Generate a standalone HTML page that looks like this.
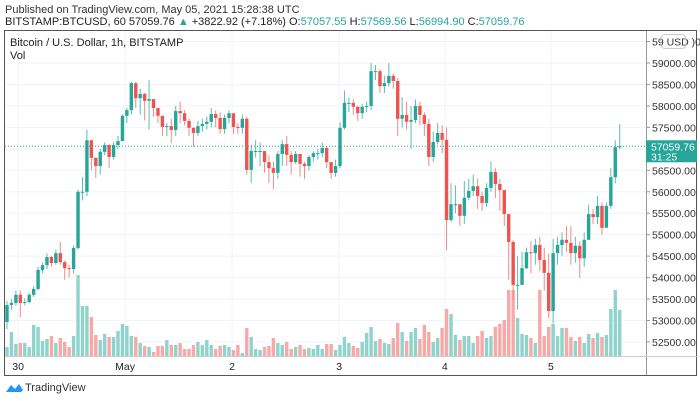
<!DOCTYPE html>
<html><head><meta charset="utf-8"><style>
body{margin:0;background:#fff;font-family:"Liberation Sans",sans-serif;}
#wrap{position:relative;width:700px;height:401px;overflow:hidden;}
</style></head><body>
<div id="wrap">
<svg id="svg" width="700" height="401" xmlns="http://www.w3.org/2000/svg">
<text x="5" y="13" font-size="11" fill="#333">Published on TradingView.com, May 05, 2021 15:28:38 UTC</text>
<text x="5" y="25" font-size="11" fill="#222">BITSTAMP:BTCUSD, 60 57059.76 <tspan fill="#26a69a">▲</tspan> +3822.92 (+7.18%) O:<tspan fill="#26a69a">57057.55</tspan> H:<tspan fill="#26a69a">57569.56</tspan> L:<tspan fill="#26a69a">56994.90</tspan> C:<tspan fill="#26a69a">57059.76</tspan></text>
<rect x="4.5" y="30.5" width="692" height="345" fill="none" stroke="#555" stroke-width="1"/>
<g id="grid"></g>
<g id="vol"></g>
<g id="candles"></g>
<g id="axis"></g>
<text x="10" y="46" font-size="11" fill="#222">Bitcoin / U.S. Dollar, 1h, BITSTAMP</text>
<text x="10" y="59" font-size="11" fill="#222">Vol</text>
<g>
<path d="M6 392 L11 385 L15 389 L19 384 L23 390 L21 392 Z" fill="#2196f3"/>
<text x="25" y="391" font-size="11" fill="#333">TradingView</text>
</g>
</svg>
</div>
<script>
const closes=[53361,53410,53600,53410,53430,53600,53735,54180,54290,54480,54340,54570,54360,54220,54200,54690,56000,56000,57200,56790,56600,56930,57090,56810,57090,57180,57770,57900,58530,58180,58280,58120,58160,57950,57770,57510,57530,57440,57880,57830,57650,57490,57370,57530,57580,57630,57810,57720,57460,57720,57830,57510,57490,57700,56510,56950,56950,56950,56690,56550,56440,56880,57110,56860,56690,56880,56650,56600,56810,56900,56900,57020,56690,56440,56600,57490,58070,58070,57980,57830,57980,58000,58810,58810,58460,58530,58700,58580,57700,57790,57630,57670,58000,57790,57580,56810,57160,57370,57210,55340,55710,55710,55440,55860,56020,56130,55900,55740,56090,56460,56180,56040,55480,54830,53830,53830,54220,54590,54570,54760,54410,54110,53220,54570,54760,54880,54810,54570,54740,54450,54880,55480,55410,55670,55160,55670,56340,57040,57060];
const firstOpen=52965;
const highs=[53450,53500,53700,53700,53520,53650,53800,54250,54350,54560,54500,54650,54830,54400,54300,54750,56050,56340,57440,57200,56800,57000,57150,57100,57150,57300,57800,57950,58560,58560,58400,58300,58600,58000,57850,57700,57600,57700,58000,58100,57900,57700,57500,57650,57700,57750,57950,57900,57850,57800,57900,57800,57600,57800,57750,57100,57200,57150,56950,56850,56700,56950,57200,57300,56950,56950,56850,56700,56850,56950,57000,57150,57050,56700,56750,57620,58360,58200,58150,58000,58050,58100,59000,58950,58850,58700,59000,58750,58650,58200,58100,58000,58150,58100,57850,57700,57400,57600,57550,57500,56200,56150,55700,56250,56300,56400,56300,56000,56200,56700,56550,56300,55900,55200,54870,54500,54600,54700,54850,54900,54950,54700,54560,54900,54950,55050,55200,55200,54950,54850,55050,55700,55600,55900,55750,55750,56550,57200,57580];
const lows=[52800,53250,53350,53080,53350,53400,53550,53700,54100,54200,54250,54300,54300,53950,54000,54100,54650,55800,55900,56500,56320,56400,56850,56550,56750,57000,57500,57600,57800,57950,57800,57660,57450,57750,57600,57300,57300,57130,57300,57600,57550,57300,57040,57300,57400,57450,57500,57500,57350,57350,57600,57350,57350,57350,56400,56200,56800,56600,56450,56200,56060,56300,56600,56600,56400,56650,56350,56300,56500,56700,56750,56800,56550,56300,56350,56550,57450,57850,57800,57650,57700,57850,57900,58600,58300,58300,58450,58400,57300,57500,57450,57000,57600,57550,57300,56600,56700,57100,56900,54640,55300,55500,55200,55250,55800,55900,55600,55550,55650,56000,55850,55550,55200,53950,53480,53250,54000,54200,54100,54300,54150,53700,53060,52940,54300,54500,54600,54300,54350,53990,54250,55350,55250,55250,55000,55200,55600,56200,56990];
const volumes=[9,24,12,13,13,9,31,29,15,17,20,13,18,14,9,20,81,50,50,39,21,16,22,19,19,25,32,30,20,19,13,10,9,4,10,10,16,11,11,13,7,7,11,14,11,16,11,7,10,11,9,6,11,3,28,19,7,6,9,10,18,13,11,14,7,9,11,7,8,7,11,7,12,12,6,11,19,13,10,8,14,23,29,15,17,13,12,18,33,24,15,24,28,17,31,24,14,18,28,47,42,21,16,20,20,13,20,25,18,20,29,32,36,66,66,38,22,21,18,13,66,20,29,32,20,28,28,19,15,19,13,22,18,23,19,21,47,66,46];
const priceTicks=[59500,59000,58500,58000,57500,57000,56500,56000,55500,55000,54500,54000,53500,53000,52500];
const dayLabels=["30","May","2","3","4","5"];
const dayIndex=[2.5,26.6,50.7,74.8,98.6,122.5];
const lastLabel="57059.76";

const NS="http://www.w3.org/2000/svg";
const X0=5,STEP=4.44,AX=646;
const xs=i=>X0+2+STEP*i;
const ys=p=>63+(59000-p)/500*21.46;
const vy=v=>356-v;
function mk(tag,attrs,parent){const e=document.createElementNS(NS,tag);for(const k in attrs)e.setAttribute(k,attrs[k]);parent.appendChild(e);return e;}
const grid=document.getElementById('grid'),vol=document.getElementById('vol'),cg=document.getElementById('candles'),axis=document.getElementById('axis');
priceTicks.forEach((p,k)=>{
  const l=mk('line',{x1:5,x2:AX,y1:ys(p),y2:ys(p),stroke:'#f0f3fa'},grid);
  
  
  mk('line',{x1:AX,x2:AX+4,y1:ys(p),y2:ys(p),stroke:'#999'},axis);
  const t=mk('text',{x:652,y:ys(p)+4,'font-size':10.5,fill:'#333'},axis);
  t.textContent=k===0?'59 USD )0':p.toFixed(2);
  
  
});
mk('rect',{x:661,y:ys(59500)-7,width:25,height:14,rx:4,fill:'none',stroke:'#ccc'},axis);
dayLabels.forEach((d,k)=>{
  const x=xs(dayIndex[k]);
  const l=mk('line',{x1:x,x2:x,y1:31,y2:356,stroke:'#f0f3fa'},grid);
  
  
  const t=mk('text',{x:x,y:370,'font-size':10.5,fill:'#222','text-anchor':'middle'},axis);
  t.textContent=d;
  
  
});
mk('line',{x1:AX+0.5,x2:AX+0.5,y1:31,y2:375,stroke:'#999'},axis);
mk('line',{x1:5,x2:697,y1:356.5,y2:356.5,stroke:'#ccc'},axis);
const last=closes[closes.length-1];
const pl=mk('line',{x1:5,x2:AX,y1:ys(last),y2:ys(last),stroke:'#26a69a','stroke-dasharray':'1,2'},axis);


const box=mk('rect',{x:AX,y:ys(last)-6,width:51,height:22,fill:'#26a69a'},axis);


const bt=mk('text',{x:651,y:ys(last)+4,'font-size':10.5,fill:'#fff'},axis);bt.textContent=lastLabel;
const bt2=mk('text',{x:651,y:ys(last)+14,'font-size':10.5,fill:'#fff'},axis);bt2.textContent='31:25';
closes.forEach((c,i)=>{
  const o=i===0?firstOpen:closes[i-1];
  const up=c>=o;
  const col=up?'#26a69a':'#ef5350';
  const x=xs(i);
  const vb=mk('rect',{x:x-1.7,y:vy(volumes[i]),width:3.4,height:volumes[i],fill:up?'#8fd3cb':'#f6a9a7'},vol);
  
  
  const w=mk('line',{x1:x,x2:x,y1:ys(highs[i]),y2:ys(lows[i]),stroke:up?'#5bbdb2':'#ef8a88','stroke-width':1},cg);
  
  
  const top=ys(Math.max(o,c)),h=Math.max(1,ys(Math.min(o,c))-top);
  const b=mk('rect',{x:x-1.7,y:top,width:3.4,height:h,fill:col},cg);
  
  
});
</script>
</body></html>
